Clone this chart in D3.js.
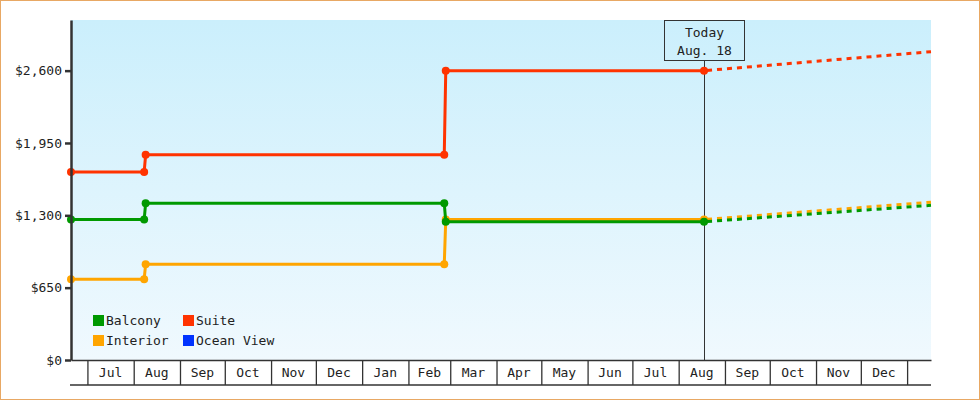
<!DOCTYPE html>
<html>
<head>
<meta charset="utf-8">
<script src="https://cdn.jsdelivr.net/npm/d3@7"></script>
<style>
  body { margin: 0; background: #fff; }
  text { font-family: "DejaVu Sans Mono", monospace; font-size: 13px; fill: #222; }
</style>
</head>
<body>
<div id="chart"></div>
<script>
// price history (steps) and projection after "today"
const historyDates = ["2017-06-20", "2017-08-08", "2017-08-09", "2018-02-25", "2018-02-26", "2018-08-18"];
const suitePrices    = [1690, 1690, 1845, 1845, 2600, 2600];
const balconyPrices  = [1262, 1262, 1408, 1408, 1242, 1242];
const interiorPrices = [726, 726, 861, 861, 1262, 1262];

const forecastDates = ["2018-08-18", "2019-01-17"];
const suiteForecast    = [2600, 2770];
const balconyForecast  = [1242, 1390];
const interiorForecast = [1262, 1418];

const yTicks = [0, 650, 1300, 1950, 2600];
const legendNames = ["Balcony", "Suite", "Interior", "Ocean View"];
const legendColors = ["#009900", "#ff3300", "#ffa500", "#0033ff"];
const todayDate = "2018-08-18";
const todayLabel = ["Today", "Aug. 18"];

const width = 980, height = 400;
const margin = {top: 20, right: 49, bottom: 40, left: 71};
const parse = d3.timeParse("%Y-%m-%d");

const svg = d3.select("#chart").append("svg")
    .attr("width", width)
    .attr("height", height);

// outer frame
svg.append("rect")
    .attr("x", 0.5).attr("y", 0.5)
    .attr("width", width - 1).attr("height", height - 1)
    .attr("fill", "#fff")
    .attr("stroke", "#e8a864");

const x = d3.scaleTime()
    .domain([parse("2017-06-20"), parse("2019-01-17")])
    .range([margin.left, width - margin.right]);

const y = d3.scaleLinear()
    .domain([0, 3055])
    .range([height - margin.bottom, margin.top]);

// background gradient
const grad = svg.append("defs").append("linearGradient")
    .attr("id", "bg").attr("x1", 0).attr("y1", 0).attr("x2", 0).attr("y2", 1);
grad.append("stop").attr("offset", "0%").attr("stop-color", "#cbeffc");
grad.append("stop").attr("offset", "100%").attr("stop-color", "#f0f9fe");

svg.append("rect")
    .attr("x", x.range()[0]).attr("y", y.range()[1])
    .attr("width", x.range()[1] - x.range()[0])
    .attr("height", y.range()[0] - y.range()[1])
    .attr("fill", "url(#bg)");

// today marker line + label box
const tx = Math.round(x(parse(todayDate))) + 0.5;
svg.append("line")
    .attr("x1", tx).attr("x2", tx)
    .attr("y1", margin.top + 40).attr("y2", y(0))
    .attr("stroke", "#333").attr("stroke-width", 1);
svg.append("rect")
    .attr("x", tx - 40).attr("y", margin.top + 0.5)
    .attr("width", 80).attr("height", 40)
    .attr("fill", "none").attr("stroke", "#333");
svg.append("g").selectAll("text")
    .data(todayLabel)
    .join("text")
    .attr("x", tx)
    .attr("y", (d, i) => margin.top + 17 + i * 18)
    .attr("text-anchor", "middle")
    .text(d => d);

// series
const series = [
    {color: "#ffa500", hist: interiorPrices, fc: interiorForecast},
    {color: "#009900", hist: balconyPrices, fc: balconyForecast},
    {color: "#ff3300", hist: suitePrices, fc: suiteForecast}
];

const line = d3.line()
    .x(d => x(d.date))
    .y(d => y(d.value));

series.forEach(s => {
    const pts = historyDates.map((d, i) => ({date: parse(d), value: s.hist[i]}));
    const fpts = forecastDates.map((d, i) => ({date: parse(d), value: s.fc[i]}));

    svg.append("path")
        .datum(fpts)
        .attr("d", line)
        .attr("fill", "none")
        .attr("stroke", s.color)
        .attr("stroke-width", 3)
        .attr("stroke-dasharray", "5,5")
        .attr("stroke-dashoffset", -3);

    svg.append("path")
        .datum(pts)
        .attr("d", line)
        .attr("fill", "none")
        .attr("stroke", s.color)
        .attr("stroke-width", 3);

    svg.append("g").selectAll("circle")
        .data(pts)
        .join("circle")
        .attr("cx", d => x(d.date))
        .attr("cy", d => y(d.value))
        .attr("r", 4)
        .attr("fill", s.color);
});

// y axis
const yAxis = svg.append("g")
    .attr("transform", `translate(${margin.left},0)`)
    .call(d3.axisLeft(y)
        .tickValues(yTicks)
        .tickSize(6)
        .tickSizeOuter(0)
        .tickPadding(3)
        .tickFormat(d => "$" + d3.format(",")(d)));
yAxis.select(".domain").attr("stroke", "#333").attr("stroke-width", 2.5);
yAxis.selectAll(".tick line").attr("stroke", "#333").attr("stroke-width", 2.5);
yAxis.selectAll("text").attr("font-family", "DejaVu Sans Mono").attr("font-size", 13).attr("fill", "#222");

// x axis: month cells
const months = d3.timeMonth.range(x.domain()[0], x.domain()[1]);
const bandH = 25;
const xAxis = svg.append("g")
    .attr("transform", `translate(0,${y(0)})`)
    .call(d3.axisBottom(x)
        .tickValues(months)
        .tickSize(bandH)
        .tickSizeOuter(0)
        .tickFormat(""));
xAxis.select(".domain").attr("stroke", "#333").attr("stroke-width", 1.5);
xAxis.selectAll(".tick line").attr("stroke", "#333").attr("stroke-width", 1.3);

svg.append("line")
    .attr("x1", x.range()[0] - 1).attr("x2", x.range()[1])
    .attr("y1", y(0) + bandH).attr("y2", y(0) + bandH)
    .attr("stroke", "#333").attr("stroke-width", 1.3);

const fmt = d3.timeFormat("%b");
svg.append("g").selectAll("text")
    .data(months.filter(m => d3.timeMonth.offset(m, 1) <= x.domain()[1]))
    .join("text")
    .attr("x", d => (x(d) + x(d3.timeMonth.offset(d, 1))) / 2)
    .attr("y", y(0) + 17)
    .attr("text-anchor", "middle")
    .text(d => fmt(d));

// legend
const legend = svg.append("g");
legendNames.forEach((name, i) => {
    const lx = 93 + (i % 2) * 90;
    const ly = 315 + Math.floor(i / 2) * 20;
    legend.append("rect")
        .attr("x", lx).attr("y", ly)
        .attr("width", 11).attr("height", 11)
        .attr("fill", legendColors[i]);
    legend.append("text")
        .attr("x", lx + 13).attr("y", ly + 10)
        .text(name);
});
</script>
</body>
</html>
